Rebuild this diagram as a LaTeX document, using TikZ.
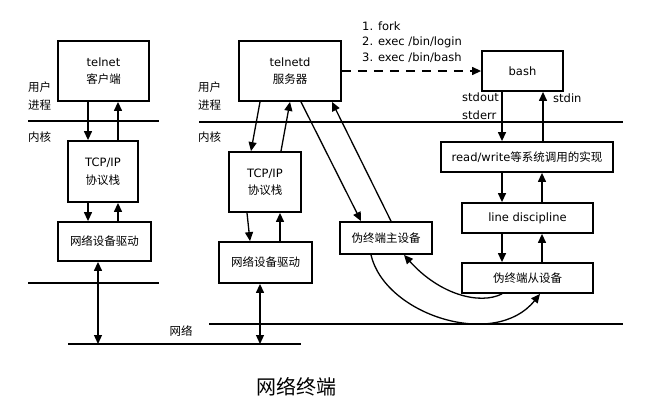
\documentclass[tikz,border=0pt]{standalone}
\usepackage{fontspec}
\setmainfont{DejaVu Sans}
\newfontfamily\cjk{Noto Sans CJK SC}
\usetikzlibrary{arrows.meta}
\newcommand{\zh}[1]{{\cjk #1}}
\begin{document}
\begin{tikzpicture}[x=1pt,y=-1pt,
  every node/.style={font=\fontsize{11.5}{17.5}\selectfont, inner sep=0pt},
  box/.style={draw, line width=1.8pt, align=center},
  link/.style={line width=1.3pt, -{Triangle[length=9pt,width=8pt]}},
  both/.style={line width=1.3pt, {Triangle[length=9pt,width=8pt]}-{Triangle[length=9pt,width=8pt]}},
  layer/.style={line width=1.3pt},
  lbl/.style={anchor=west, align=left}]
\useasboundingbox (0,0) rectangle (657,407);

% user/kernel boundaries and network lines
\draw[layer] (28,121) -- (159,121);
\draw[layer] (199,122) -- (623,122);
\draw[layer] (28,283) -- (159,283);
\draw[layer] (68,344) -- (301,344);
\draw[layer] (209,324) -- (623,324);

% layer labels
\node[lbl] (ulL) at (28,96) {\zh{用户}\\\zh{进程}};
\node[lbl] (kL) at (28,137) {\zh{内核}};
\node[lbl] (ulR) at (198,96) {\zh{用户}\\\zh{进程}};
\node[lbl] (kR) at (198,137) {\zh{内核}};
\node (net) at (181,331) {\zh{网络}};

% client side
\node[box, minimum width=91, minimum height=60] (cli) at (103.5,71) {telnet\\\zh{客户端}};
\node[box, minimum width=70, minimum height=61] (tcpL) at (103,171.5) {TCP/IP\\\zh{协议栈}};
\node[box, minimum width=93, minimum height=39] (drvL) at (104.5,241.5) {\zh{网络设备驱动}};

% server side
\node[box, minimum width=102, minimum height=60] (srv) at (290,71) {telnetd\\\zh{服务器}};
\node[box, minimum width=72, minimum height=60] (tcpR) at (265,182) {TCP/IP\\\zh{协议栈}};
\node[box, minimum width=93, minimum height=41] (drvR) at (265.5,262.5) {\zh{网络设备驱动}};
\node[box, minimum width=92, minimum height=32] (master) at (386,238) {\zh{伪终端主设备}};

\node[box, minimum width=81, minimum height=40] (bash) at (522.5,71) {bash};
\node[box, minimum width=172, minimum height=30] (rw) at (527,157) {read/write\zh{等系统调用的实现}};
\node[box, minimum width=131, minimum height=30] (ld) at (527.5,218) {line discipline};
\node[box, minimum width=131, minimum height=30] (slave) at (527.5,278) {\zh{伪终端从设备}};

% process creation steps
\node[lbl] (s1) at (362,26) {1. fork};
\node[lbl] (s2) at (362,42) {2. exec /bin/login};
\node[lbl] (s3) at (362,58) {3. exec /bin/bash};
\node[lbl] (so) at (462,106) {stdout\\stderr};
\node[lbl] (si) at (553,98) {stdin};

% network endpoints
\coordinate (netA) at (98,344);
\coordinate (netB) at (260,344);

% client stack
\draw[link] (cli.south -| 88,0) -- (tcpL.north -| 88,0);
\draw[link] (tcpL.north -| 118,0) -- (cli.south -| 118,0);
\draw[link] (tcpL.south -| 88,0) -- (drvL.north -| 88,0);
\draw[link] (drvL.north -| 118,0) -- (tcpL.south -| 118,0);
\draw[both] (drvL.south -| 98,0) -- (netA);

% server stack
\draw[link] (srv.south -| 260,0) -- (tcpR.north -| 251,0);
\draw[link] (tcpR.north -| 281,0) -- (srv.south -| 290,0);
\draw[link] (tcpR.south -| 247,0) -- (drvR.north -| 250,0);
\draw[link] (drvR.north -| 280,0) -- (tcpR.south -| 280,0);
\draw[both] (drvR.south -| 260,0) -- (netB);

% telnetd <-> pty master
\draw[link] (srv.south -| 301,0) -- (master.north -| 361,0);
\draw[link] (master.north -| 391,0) -- (srv.south -| 332,0);

% telnetd spawns bash
\draw[link, dashed, dash pattern=on 9pt off 7pt] (srv.east) -- (bash.west);

% bash down to the pty slave
\draw[link] (bash.south -| 502,0) -- (rw.north -| 502,0);
\draw[link] (rw.north -| 543,0) -- (bash.south -| 543,0);
\draw[link] (rw.south -| 502,0) -- (ld.north -| 502,0);
\draw[link] (ld.north -| 542,0) -- (rw.south -| 542,0);
\draw[link] (ld.south -| 502,0) -- (slave.north -| 502,0);
\draw[link] (slave.north -| 542,0) -- (ld.south -| 542,0);

% master <-> slave
\draw[link] (slave.south -| 502,0) .. controls (480,305) and (440,295) .. (master.south -| 404,0);
\draw[link] (master.south -| 371,0) .. controls (385,315) and (495,350) .. (slave.south -| 540,0);

% caption
\node[font=\cjk\fontsize{20}{24}\selectfont] (title) at (296,387) {网络终端};
\end{tikzpicture}
\end{document}
